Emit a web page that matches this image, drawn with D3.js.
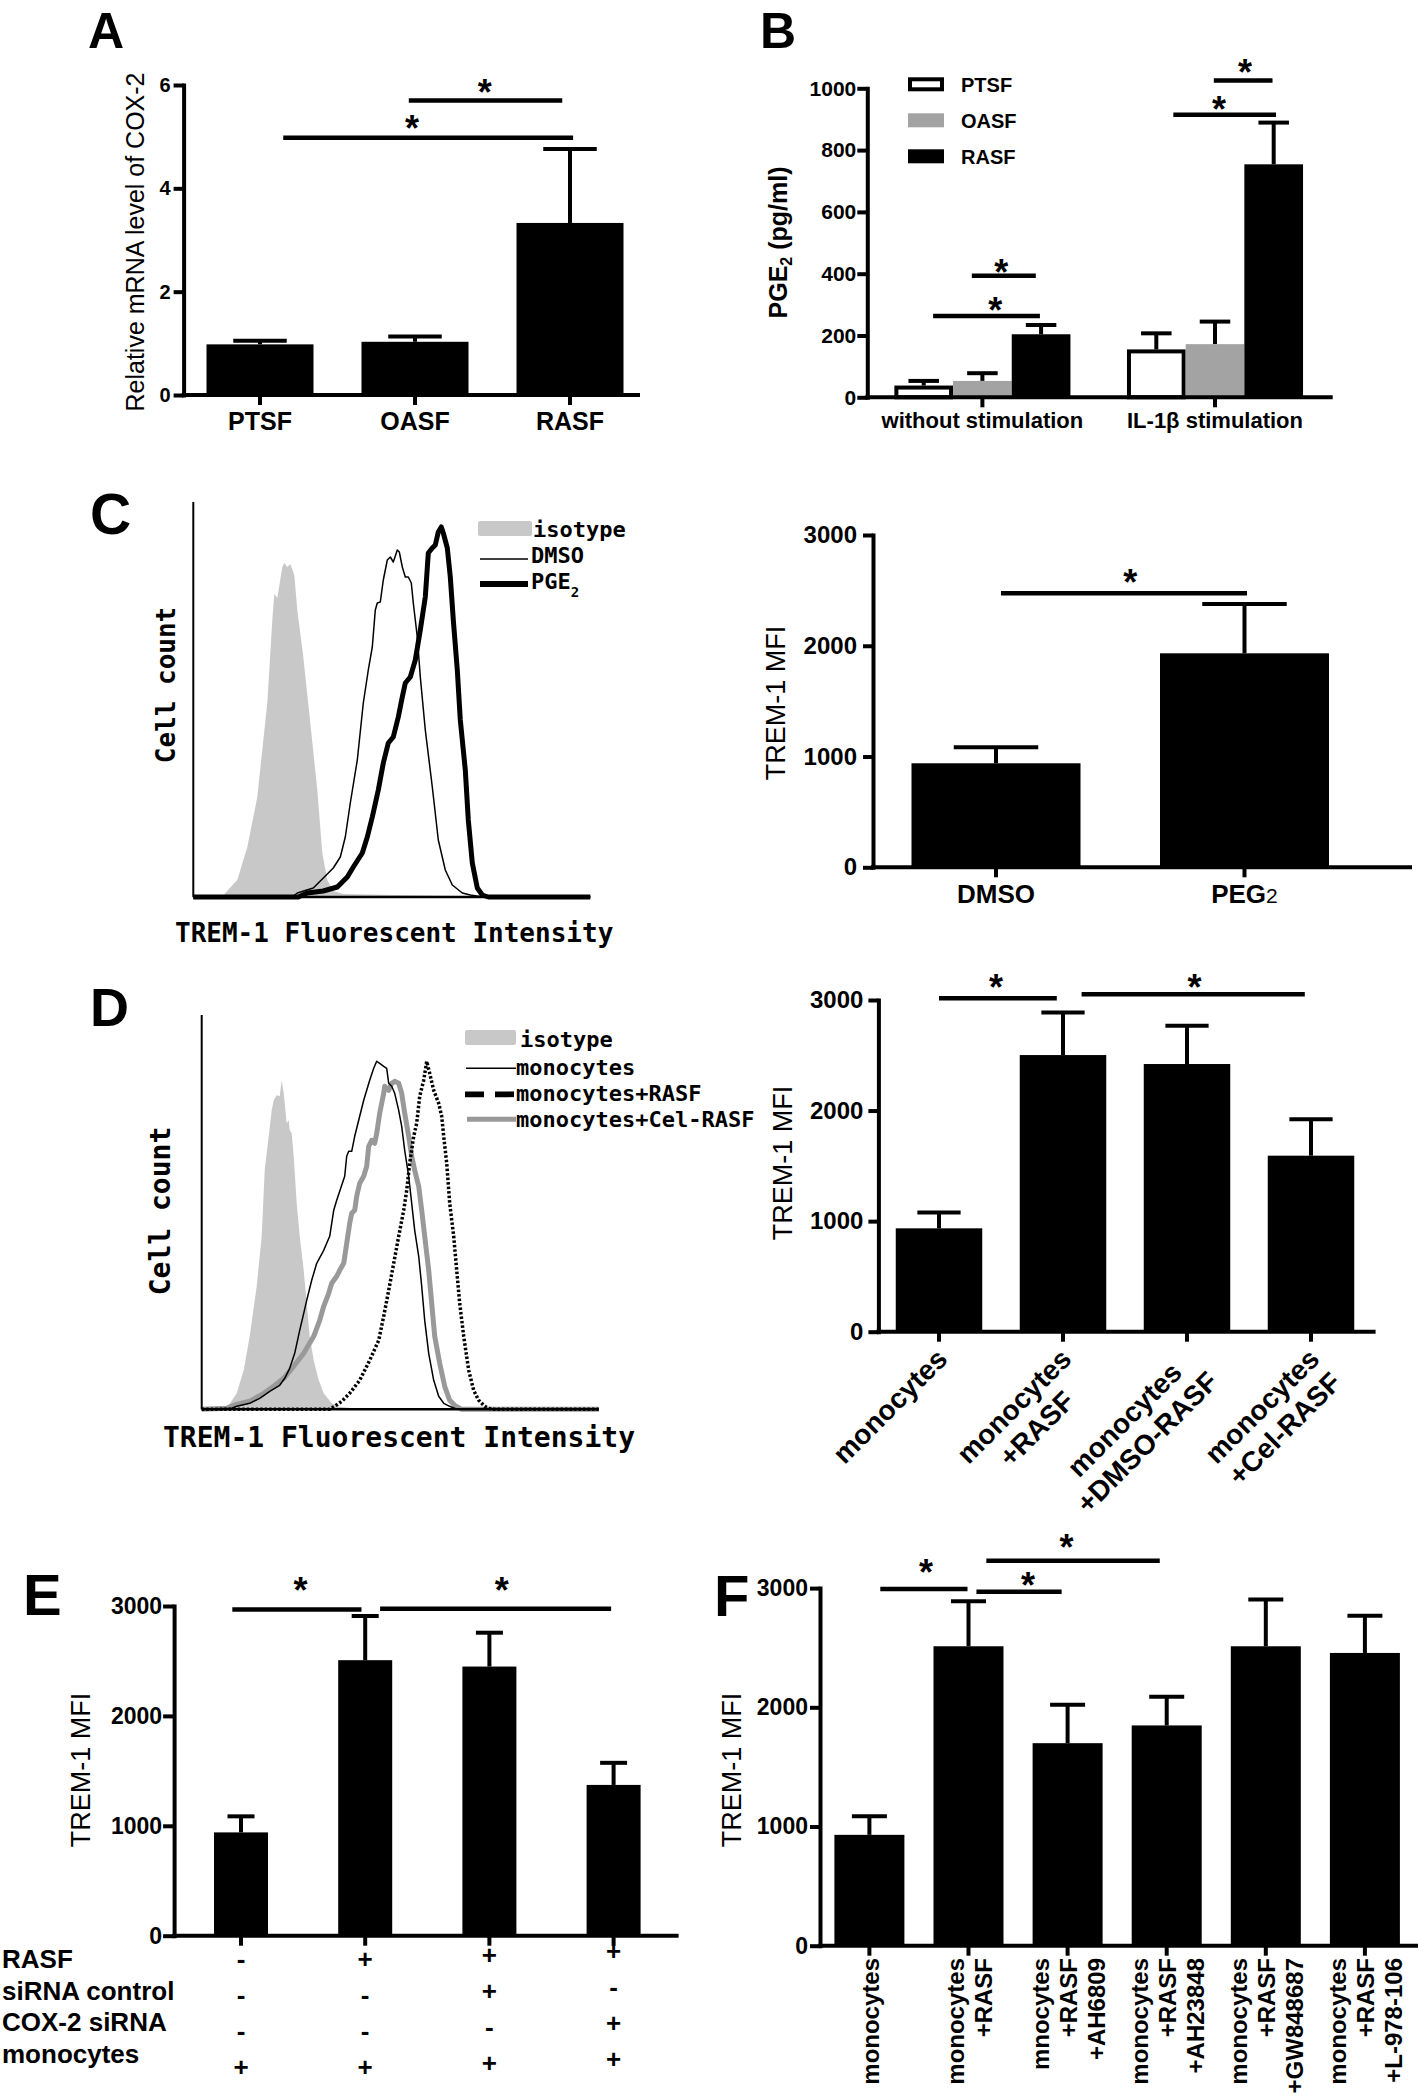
<!DOCTYPE html>
<html><head><meta charset="utf-8">
<script src="https://cdn.jsdelivr.net/npm/d3@7"></script>
<style>
body{margin:0;background:#fff;}
svg{display:block;background:#fff;}
</style></head><body>
<svg id="fig" width="1418" height="2099"></svg>
<script>
// ================= DATA =================
// Panel A – relative COX-2 mRNA
const aCategories = ["PTSF", "OASF", "RASF"];
const aMeans = [0.98, 1.03, 3.33];
const aUpper = [1.05, 1.13, 4.76];
const aTicks = [0, 2, 4, 6];
const aSig = [[0.96, 1.95, 5.70], [0.15, 2.02, 4.98]];      // [from, to, level]
const aStars = [[1.45, 6.0], [0.98, 5.31]];                  // [pos, level]

// Panel B – PGE2 (pg/ml)
const bGroups = ["without stimulation", "IL-1β stimulation"];
const bSeries = ["PTSF", "OASF", "RASF"];
const bWithout = [38, 53, 204];
const bWithoutUpper = [53, 78, 234];
const bIL1 = [155, 172, 754];
const bIL1Upper = [207, 245, 889];
const bTicks = [0, 200, 400, 600, 800, 1000];
const bSig = [[0, 0.82, 1.91, 393], [0, 0.16, 1.98, 263], [1, 0.98, 1.98, 1025], [1, 0.29, 2.04, 914]];
const bStars = [[0, 1.32, 428], [0, 1.22, 304], [1, 1.51, 1075], [1, 1.07, 957]];

// Panel C – flow histograms [channel, count]
const cIsotype = [[0,0],[30,1],[32,4],[44,17],[54,50],[64,100],[74,194],[79,277],[81,303],[84,299],[89,330],[91,334],[94,330],[97,333],[101,322],[104,287],[110,240],[117,174],[124,107],[129,44],[134,17],[140,6],[150,3],[200,2],[270,1],[397,0]];
const cDMSO = [[0,0],[100,1],[104,4],[120,9],[130,19],[140,29],[147,40],[152,60],[157,94],[164,137],[170,194],[175,227],[179,250],[182,287],[184,294],[187,295],[190,317],[194,337],[197,340],[200,335],[204,347],[206,345],[209,330],[212,320],[215,320],[218,314],[220,294],[224,260],[227,220],[232,167],[239,110],[245,57],[252,27],[259,12],[269,4],[277,2],[290,0],[397,0]];
const cPGE2 = [[0,0],[105,0],[114,4],[130,6],[144,10],[154,20],[160,30],[169,44],[174,60],[179,80],[185,107],[190,134],[195,154],[200,160],[205,180],[209,200],[212,214],[217,220],[222,237],[227,267],[232,300],[235,344],[239,349],[242,352],[245,365],[248,370],[250,364],[254,349],[257,320],[260,277],[264,227],[267,177],[272,127],[275,77],[279,34],[284,9],[289,2],[295,0],[397,0]];
// Panel C – MFI bars
const cCategories = ["DMSO", "PEG2"];
const cMeans = [939, 1932];
const cUpper = [1083, 2377];
const mfiTicks = [0, 1000, 2000, 3000];
const cSig = [[0.02, 1.01, 2473]];
const cStars = [[0.54, 2636]];

// Panel D – flow histograms
const dIsotype = [[0,0],[20,1],[27,4],[35,16],[42,39],[48,73],[55,123],[60,173],[63,239],[67,273],[70,299],[72,309],[75,314],[78,313],[80,329],[82,316],[83,306],[85,286],[87,289],[88,279],[90,276],[92,253],[95,206],[98,173],[102,139],[105,106],[108,73],[112,49],[117,29],[122,16],[130,6],[135,3],[150,1],[397,0]];
const dMonocytes = [[0,0],[30,1],[35,3],[48,6],[58,11],[68,18],[78,24],[83,31],[88,41],[93,56],[98,79],[102,96],[105,109],[110,129],[115,146],[122,159],[128,173],[132,199],[135,209],[138,218],[143,233],[145,253],[147,258],[150,258],[153,273],[158,293],[162,309],[165,319],[168,329],[172,341],[175,348],[178,346],[182,343],[185,341],[187,326],[190,323],[193,316],[197,299],[200,283],[203,259],[207,233],[210,206],[213,179],[217,153],[220,123],[223,89],[227,56],[232,29],[237,13],[242,6],[248,3],[255,0],[397,0]];
const dCelRASF = [[0,0],[25,1],[32,4],[48,8],[62,16],[72,23],[82,31],[92,43],[102,56],[112,73],[118,89],[122,103],[127,116],[130,126],[135,133],[138,139],[142,146],[145,166],[148,186],[150,196],[153,199],[155,213],[158,226],[162,233],[165,243],[167,263],[170,269],[173,266],[175,276],[178,296],[182,316],[183,323],[187,319],[190,326],[193,328],[197,326],[200,316],[203,296],[207,273],[210,253],[213,239],[217,223],[220,199],[223,173],[227,139],[230,106],[233,73],[238,46],[243,23],[248,9],[253,4],[260,0],[397,0]];
const dRASF = [[0,0],[128,0],[133,3],[140,8],[148,16],[158,29],[168,49],[177,69],[182,93],[187,119],[192,146],[197,173],[202,199],[205,219],[208,246],[212,273],[215,286],[218,313],[222,329],[225,348],[228,336],[232,319],[237,306],[240,293],[242,273],[245,246],[248,206],[252,173],[255,139],[258,106],[262,73],[267,39],[272,19],[277,9],[283,3],[290,0],[397,0]];
// Panel D – MFI bars
const dCategories = [["monocytes"], ["monocytes", "+RASF"], ["monocytes", "+DMSO-RASF"], ["monocytes", "+Cel-RASF"]];
const dMeans = [935, 2502, 2421, 1592];
const dUpper = [1079, 2888, 2768, 1921];
const dSig = [[0.0, 0.95, 3015], [1.15, 2.95, 3051]];
const dStars = [[0.46, 3181], [2.06, 3181]];

// Panel E – siRNA
const eMeans = [940, 2507, 2449, 1372];
const eUpper = [1086, 2909, 2757, 1573];
const eRowLabels = ["RASF", "siRNA control", "COX-2 siRNA", "monocytes"];
const eTreatment = [["-", "+", "+", "+"], ["-", "-", "+", "-"], ["-", "-", "-", "+"], ["+", "+", "+", "+"]];
const eSig = [[-0.07, 0.97, 2968], [1.12, 2.98, 2975]];
const eStars = [[0.48, 3211], [2.10, 3211]];

// Panel F – receptor antagonists
const fCategories = [["monocytes"], ["monocytes", "+RASF"], ["mnocytes", "+RASF", "+AH6809"], ["monocytes", "+RASF", "+AH23848"], ["monocytes", "+RASF", "+GW848687"], ["monocytes", "+RASF", "+L-978-106"]];
const fMeans = [930, 2512, 1699, 1848, 2512, 2456];
const fUpper = [1086, 2889, 2022, 2088, 2904, 2767];
const fSig = [[0.11, 0.99, 2992], [1.08, 1.94, 2970], [1.18, 2.93, 3230]];
const fStars = [[0.57, 3194], [1.60, 3087], [1.99, 3404]];

// ================= DRAWING =================
const SANS = "'Liberation Sans', Arial, Helvetica, sans-serif";
const MONO = "'DejaVu Sans Mono', 'Liberation Mono', monospace";
const LW = 4;
const svg = d3.select("#fig");

function panelLetter(t, x, y, size) {
  svg.append("text").attr("x", x).attr("y", y).attr("font-family", SANS)
    .attr("font-weight", "bold").attr("font-size", size).text(t);
}
function styleAxis(sel, fs) {
  sel.attr("font-family", SANS).attr("font-size", fs).attr("font-weight", "bold");
  sel.select(".domain").attr("stroke-width", LW).attr("stroke-linecap", "square");
  sel.selectAll(".tick line").attr("stroke-width", LW);
  sel.selectAll(".tick text").attr("fill", "#000");
}
function vTitle(g, txt, cx, cy, fs, weight) {
  return g.append("text").attr("transform", `translate(${cx},${cy}) rotate(-90)`)
    .attr("text-anchor", "middle").attr("dy", "0.36em").attr("font-family", SANS)
    .attr("font-size", fs).attr("font-weight", weight || "normal").text(txt);
}
function star(g, x, y) {
  g.append("text").attr("x", x).attr("y", y + 20).attr("text-anchor", "middle")
    .attr("font-family", SANS).attr("font-weight", "bold").attr("font-size", 36).text("*");
}

function barPanel(o) {
  const g = svg.append("g");
  const n = o.means.length;
  const p = 1 - o.barW / o.step;
  const r0 = o.firstCenter - o.step / 2;
  const x = d3.scaleBand().domain(d3.range(n)).range([r0, r0 + n * o.step]).paddingInner(p).paddingOuter(p / 2);
  const y = d3.scaleLinear().domain([0, o.yMax]).range([o.yBottom, o.yTop]);
  const bw = x.bandwidth();
  const cx = f => x(0) + bw / 2 + f * x.step();
  const eb = g.append("g").attr("stroke", "#000").attr("stroke-width", LW);
  o.means.forEach((m, i) => {
    const c = cx(i);
    eb.append("line").attr("x1", c).attr("x2", c).attr("y1", y(m)).attr("y2", y(o.upper[i]));
    eb.append("line").attr("x1", c - bw * 0.25).attr("x2", c + bw * 0.25)
      .attr("y1", y(o.upper[i])).attr("y2", y(o.upper[i]));
  });
  g.selectAll("rect.bar").data(o.means).join("rect").attr("class", "bar")
    .attr("x", (d, i) => x(i)).attr("width", bw).attr("y", d => y(d))
    .attr("height", d => y(0) - y(d)).attr("fill", "#000");
  const ya = g.append("g").attr("transform", `translate(${o.axisX},0)`)
    .call(d3.axisLeft(y).tickValues(o.ticks).tickFormat(d3.format("d")).tickSize(o.tickLen).tickPadding(o.tickPad).tickSizeOuter(0));
  styleAxis(ya, o.tickFont);
  g.append("line").attr("x1", o.axisX - LW / 2).attr("x2", o.xEnd).attr("y1", y(0)).attr("y2", y(0))
    .attr("stroke", "#000").attr("stroke-width", LW);
  g.selectAll("line.xt").data(d3.range(n)).join("line").attr("class", "xt")
    .attr("x1", i => cx(i)).attr("x2", i => cx(i)).attr("y1", y(0)).attr("y2", y(0) + 10)
    .attr("stroke", "#000").attr("stroke-width", LW);
  (o.sig || []).forEach(s => g.append("line").attr("x1", cx(s[0])).attr("x2", cx(s[1]))
    .attr("y1", y(s[2])).attr("y2", y(s[2])).attr("stroke", "#000").attr("stroke-width", 4.5));
  (o.stars || []).forEach(s => star(g, cx(s[0]), y(s[1])));
  if (o.title) vTitle(g, o.title, o.titleX, o.titleY, o.titleFont, o.titleWeight);
  return { g, x, y, cx, bw };
}

// ---------- Panel A ----------
panelLetter("A", 88, 48, 50);
const pa = barPanel({
  means: aMeans, upper: aUpper, firstCenter: 260, step: 155, barW: 107,
  yMax: 6, yBottom: 395, yTop: 85, axisX: 183.6, xEnd: 640, ticks: aTicks,
  tickLen: 10, tickPad: 3, tickFont: 20, sig: aSig, stars: aStars,
  title: "Relative mRNA level of COX-2", titleX: 135.4, titleY: 242, titleFont: 25
});
pa.g.selectAll("text.xl").data(aCategories).join("text").attr("class", "xl")
  .attr("x", (d, i) => pa.cx(i)).attr("y", 430).attr("text-anchor", "middle")
  .attr("font-family", SANS).attr("font-weight", "bold").attr("font-size", 25).text(d => d);

// ---------- Panel B ----------
panelLetter("B", 760, 48, 50);
(function () {
  const g = svg.append("g");
  const y = d3.scaleLinear().domain([0, 1000]).range([397.3, 88.3]);
  const gx = d3.scaleBand().domain(d3.range(bGroups.length)).range([866.1, 1331.3]).paddingInner(0.243).paddingOuter(0.1215);
  const sx = d3.scaleBand().domain(d3.range(bSeries.length)).range([0, gx.bandwidth()]);
  const xB = (gi, s) => gx(gi) + (s + 0.5) * sx.step();
  const fills = ["#fff", "#a3a3a3", "#000"];
  const groups = [[bWithout, bWithoutUpper], [bIL1, bIL1Upper]];
  groups.forEach((gr, gi) => {
    gr[0].forEach((v, si) => {
      const c = xB(gi, si), top = y(gr[1][si]);
      g.append("line").attr("x1", c).attr("x2", c).attr("y1", y(v)).attr("y2", top).attr("stroke", "#000").attr("stroke-width", LW);
      g.append("line").attr("x1", c - sx.bandwidth() * 0.26).attr("x2", c + sx.bandwidth() * 0.26).attr("y1", top).attr("y2", top).attr("stroke", "#000").attr("stroke-width", LW);
    });
    gr[0].forEach((v, si) => {
      const x0 = gx(gi) + sx(si), w = sx.bandwidth();
      if (si === 0) {
        g.append("rect").attr("x", x0 + 2).attr("width", w - 4).attr("y", y(v) + 2).attr("height", y(0) - y(v) - 2)
          .attr("fill", "#fff").attr("stroke", "#000").attr("stroke-width", LW);
      } else {
        g.append("rect").attr("x", x0).attr("width", w).attr("y", y(v)).attr("height", y(0) - y(v)).attr("fill", fills[si]);
      }
    });
  });
  const ya = g.append("g").attr("transform", "translate(867.3,0)")
    .call(d3.axisLeft(y).tickValues(bTicks).tickFormat(d3.format("d")).tickSize(10).tickPadding(1).tickSizeOuter(0));
  styleAxis(ya, 21);
  g.append("line").attr("x1", 865.3).attr("x2", 1332.7).attr("y1", y(0)).attr("y2", y(0)).attr("stroke", "#000").attr("stroke-width", LW);
  bGroups.forEach((name, gi) => {
    const c = gx(gi) + gx.bandwidth() / 2;
    g.append("line").attr("x1", c).attr("x2", c).attr("y1", y(0)).attr("y2", y(0) + 10).attr("stroke", "#000").attr("stroke-width", LW);
    g.append("text").attr("x", c).attr("y", 428).attr("text-anchor", "middle").attr("font-family", SANS)
      .attr("font-weight", "bold").attr("font-size", 22).text(name);
  });
  bSig.forEach(s => g.append("line").attr("x1", xB(s[0], s[1])).attr("x2", xB(s[0], s[2]))
    .attr("y1", y(s[3])).attr("y2", y(s[3])).attr("stroke", "#000").attr("stroke-width", 4.5));
  bStars.forEach(s => star(g, xB(s[0], s[1]), y(s[2])));
  // legend
  bSeries.forEach((name, si) => {
    const ly = 77.3 + si * 36;
    if (si === 0) g.append("rect").attr("x", 910).attr("y", ly + 2).attr("width", 32).attr("height", 10).attr("fill", "#fff").attr("stroke", "#000").attr("stroke-width", LW);
    else g.append("rect").attr("x", 908).attr("y", ly).attr("width", 36).attr("height", 14).attr("fill", fills[si]);
    g.append("text").attr("x", 961).attr("y", ly + 14.5).attr("font-family", SANS).attr("font-weight", "bold").attr("font-size", 20).text(name);
  });
  const t = g.append("text").attr("transform", "translate(777.6,242.5) rotate(-90)").attr("text-anchor", "middle")
    .attr("dy", "0.36em").attr("font-family", SANS).attr("font-weight", "bold").attr("font-size", 25);
  t.append("tspan").text("PGE");
  t.append("tspan").attr("font-size", 16).attr("dy", 5).text("2");
  t.append("tspan").attr("dy", -5).text(" (pg/ml)");
})();

// ---------- flow panels ----------
function flowPanel(o) {
  const g = svg.append("g");
  const x = d3.scaleLinear().domain([0, 397]).range([o.x0, o.x0 + 397]);
  const y = d3.scaleLinear().domain([0, 395]).range([o.yBase, o.yBase - 395]);
  g.append("path").datum(o.isotype).attr("fill", "#c8c8c8")
    .attr("d", d3.area().x(d => x(d[0])).y0(y(0)).y1(d => y(d[1])));
  const line = d3.line().x(d => x(d[0])).y(d => y(d[1]));
  o.lines.forEach(l => {
    g.append("path").datum(l.data).attr("fill", "none").attr("stroke", l.color)
      .attr("stroke-width", l.width).attr("stroke-dasharray", l.dash || null)
      .attr("stroke-linejoin", "round").attr("d", line);
  });
  g.append("line").attr("x1", o.x0).attr("x2", o.x0).attr("y1", o.yTop).attr("y2", o.yBase).attr("stroke", "#000").attr("stroke-width", 2);
  g.append("line").attr("x1", o.x0).attr("x2", o.xEnd).attr("y1", o.yBase).attr("y2", o.yBase).attr("stroke", "#000").attr("stroke-width", 2.5);
  g.append("text").attr("x", o.xtX).attr("y", o.xtY).attr("font-family", MONO).attr("font-weight", "bold")
    .attr("font-size", o.titleFont).text("TREM-1 Fluorescent Intensity");
  g.append("text").attr("transform", `translate(${o.ytX},${o.ytY}) rotate(-90)`).attr("text-anchor", "middle")
    .attr("font-family", MONO).attr("font-weight", "bold").attr("font-size", o.titleFont).text("Cell count");
  return g;
}

// ---------- Panel C ----------
panelLetter("C", 90, 534, 57);
const gc = flowPanel({
  x0: 193.3, yBase: 897, yTop: 502, xEnd: 590.3, isotype: cIsotype,
  lines: [{ data: cDMSO, color: "#000", width: 1.5 }, { data: cPGE2, color: "#000", width: 5 }],
  xtX: 175, xtY: 942, ytX: 175, ytY: 685, titleFont: 26
});
(function () {
  const f = 22;
  gc.append("rect").attr("x", 478).attr("y", 521).attr("width", 54).attr("height", 15).attr("rx", 2).attr("fill", "#c8c8c8");
  gc.append("text").attr("x", 533).attr("y", 537).attr("font-family", MONO).attr("font-weight", "bold").attr("font-size", f).text("isotype");
  gc.append("line").attr("x1", 480).attr("x2", 528).attr("y1", 559).attr("y2", 559).attr("stroke", "#000").attr("stroke-width", 1.5);
  gc.append("text").attr("x", 531).attr("y", 563).attr("font-family", MONO).attr("font-weight", "bold").attr("font-size", f).text("DMSO");
  gc.append("line").attr("x1", 480).attr("x2", 528).attr("y1", 584).attr("y2", 584).attr("stroke", "#000").attr("stroke-width", 6);
  const t = gc.append("text").attr("x", 531).attr("y", 589).attr("font-family", MONO).attr("font-weight", "bold").attr("font-size", f);
  t.append("tspan").text("PGE");
  t.append("tspan").attr("font-size", 14).attr("dy", 8).text("2");
})();

const pc = barPanel({
  means: cMeans, upper: cUpper, firstCenter: 996, step: 248.5, barW: 169,
  yMax: 3000, yBottom: 867.3, yTop: 535, axisX: 873, xEnd: 1412, ticks: mfiTicks,
  tickLen: 10, tickPad: 6, tickFont: 24, sig: cSig, stars: cStars,
  title: "TREM-1 MFI", titleX: 775, titleY: 703, titleFont: 27
});
cCategories.forEach((c, i) => {
  const t = pc.g.append("text").attr("x", pc.cx(i)).attr("y", 903).attr("text-anchor", "middle")
    .attr("font-family", SANS).attr("font-weight", "bold").attr("font-size", 26);
  const m = c.match(/^(.*?)(\d)$/);
  if (m) { t.append("tspan").text(m[1]); t.append("tspan").attr("font-weight", "normal").attr("font-size", 21).text(m[2]); }
  else t.text(c);
});

// ---------- Panel D ----------
panelLetter("D", 90, 1026, 54);
const gd = flowPanel({
  x0: 201.7, yBase: 1409.3, yTop: 1015, xEnd: 598.3, isotype: dIsotype,
  lines: [
    { data: dCelRASF, color: "#999", width: 5 },
    { data: dRASF, color: "#000", width: 3.5, dash: "2.5,2" },
    { data: dMonocytes, color: "#000", width: 1.5 }
  ],
  xtX: 163, xtY: 1447, ytX: 170, ytY: 1211, titleFont: 28
});
(function () {
  const f = 22, fam = MONO;
  const tx = (x, y, s) => gd.append("text").attr("x", x).attr("y", y).attr("font-family", fam).attr("font-weight", "bold").attr("font-size", f).text(s);
  gd.append("rect").attr("x", 465).attr("y", 1030).attr("width", 51).attr("height", 15).attr("rx", 2).attr("fill", "#c8c8c8");
  tx(520, 1047, "isotype");
  gd.append("line").attr("x1", 466).attr("x2", 516).attr("y1", 1068.3).attr("y2", 1068.3).attr("stroke", "#000").attr("stroke-width", 1.5);
  tx(516, 1075, "monocytes");
  gd.append("line").attr("x1", 465).attr("x2", 516).attr("y1", 1094.3).attr("y2", 1094.3).attr("stroke", "#000").attr("stroke-width", 5.7).attr("stroke-dasharray", "19,11");
  tx(516, 1100.5, "monocytes+RASF");
  gd.append("line").attr("x1", 467).attr("x2", 516).attr("y1", 1119.3).attr("y2", 1119.3).attr("stroke", "#999").attr("stroke-width", 5);
  tx(516, 1126.5, "monocytes+Cel-RASF");
})();

const pd = barPanel({
  means: dMeans, upper: dUpper, firstCenter: 939, step: 124, barW: 86.5,
  yMax: 3000, yBottom: 1331.7, yTop: 1000, axisX: 878.4, xEnd: 1375.6, ticks: mfiTicks,
  tickLen: 10, tickPad: 5, tickFont: 24, sig: dSig, stars: dStars,
  title: "TREM-1 MFI", titleX: 782, titleY: 1163, titleFont: 27
});
dCategories.forEach((lines, i) => {
  const grp = pd.g.append("g").attr("transform", `translate(${pd.cx(i) + 10},${1331.7 + 29}) rotate(-45)`);
  const ts = lines.map((s, j) => grp.append("text").attr("y", j * 32).attr("text-anchor", "middle")
    .attr("font-family", SANS).attr("font-weight", "bold").attr("font-size", 28).text(s));
  const wmax = d3.max(ts, t => t.node().getComputedTextLength());
  ts.forEach(t => t.attr("x", -wmax / 2));
});

// ---------- Panel E ----------
panelLetter("E", 23, 1615, 58);
const pe = barPanel({
  means: eMeans, upper: eUpper, firstCenter: 241, step: 124.2, barW: 54,
  yMax: 3000, yBottom: 1935.7, yTop: 1606, axisX: 174.1, xEnd: 678.6, ticks: mfiTicks,
  tickLen: 11, tickPad: 1, tickFont: 23, sig: eSig, stars: eStars,
  title: "TREM-1 MFI", titleX: 80.4, titleY: 1770, titleFont: 27
});
(function () {
  const colDy = [0, 0, -4, -8];
  eRowLabels.forEach((lab, r) => {
    pe.g.append("text").attr("x", 2).attr("y", 1968 + r * 31.5).attr("font-family", SANS)
      .attr("font-weight", "bold").attr("font-size", 26).text(lab);
    eTreatment[r].forEach((s, c) => {
      pe.g.append("text").attr("x", pe.cx(c)).attr("y", 1959 + r * 36 + 9 + colDy[c]).attr("text-anchor", "middle")
        .attr("font-family", SANS).attr("font-weight", "bold").attr("font-size", 26).text(s);
    });
  });
})();

// ---------- Panel F ----------
panelLetter("F", 714, 1616, 58);
const pf = barPanel({
  means: fMeans, upper: fUpper, firstCenter: 869.4, step: 99.1, barW: 70,
  yMax: 3000, yBottom: 1945.7, yTop: 1588.1, axisX: 820, xEnd: 1418, ticks: mfiTicks,
  tickLen: 10, tickPad: 2, tickFont: 23, sig: fSig, stars: fStars,
  title: "TREM-1 MFI", titleX: 731, titleY: 1770, titleFont: 27
});
fCategories.forEach((lines, i) => {
  const n = lines.length;
  lines.forEach((s, j) => {
    const bx = pf.cx(i) + 3 + (j - (n - 1) / 2) * 28 + 6.5;
    pf.g.append("text").attr("transform", `translate(${bx},1958) rotate(-90)`).attr("text-anchor", "end")
      .attr("font-family", SANS).attr("font-weight", "bold").attr("font-size", 24).text(s);
  });
});
</script>
</body></html>
